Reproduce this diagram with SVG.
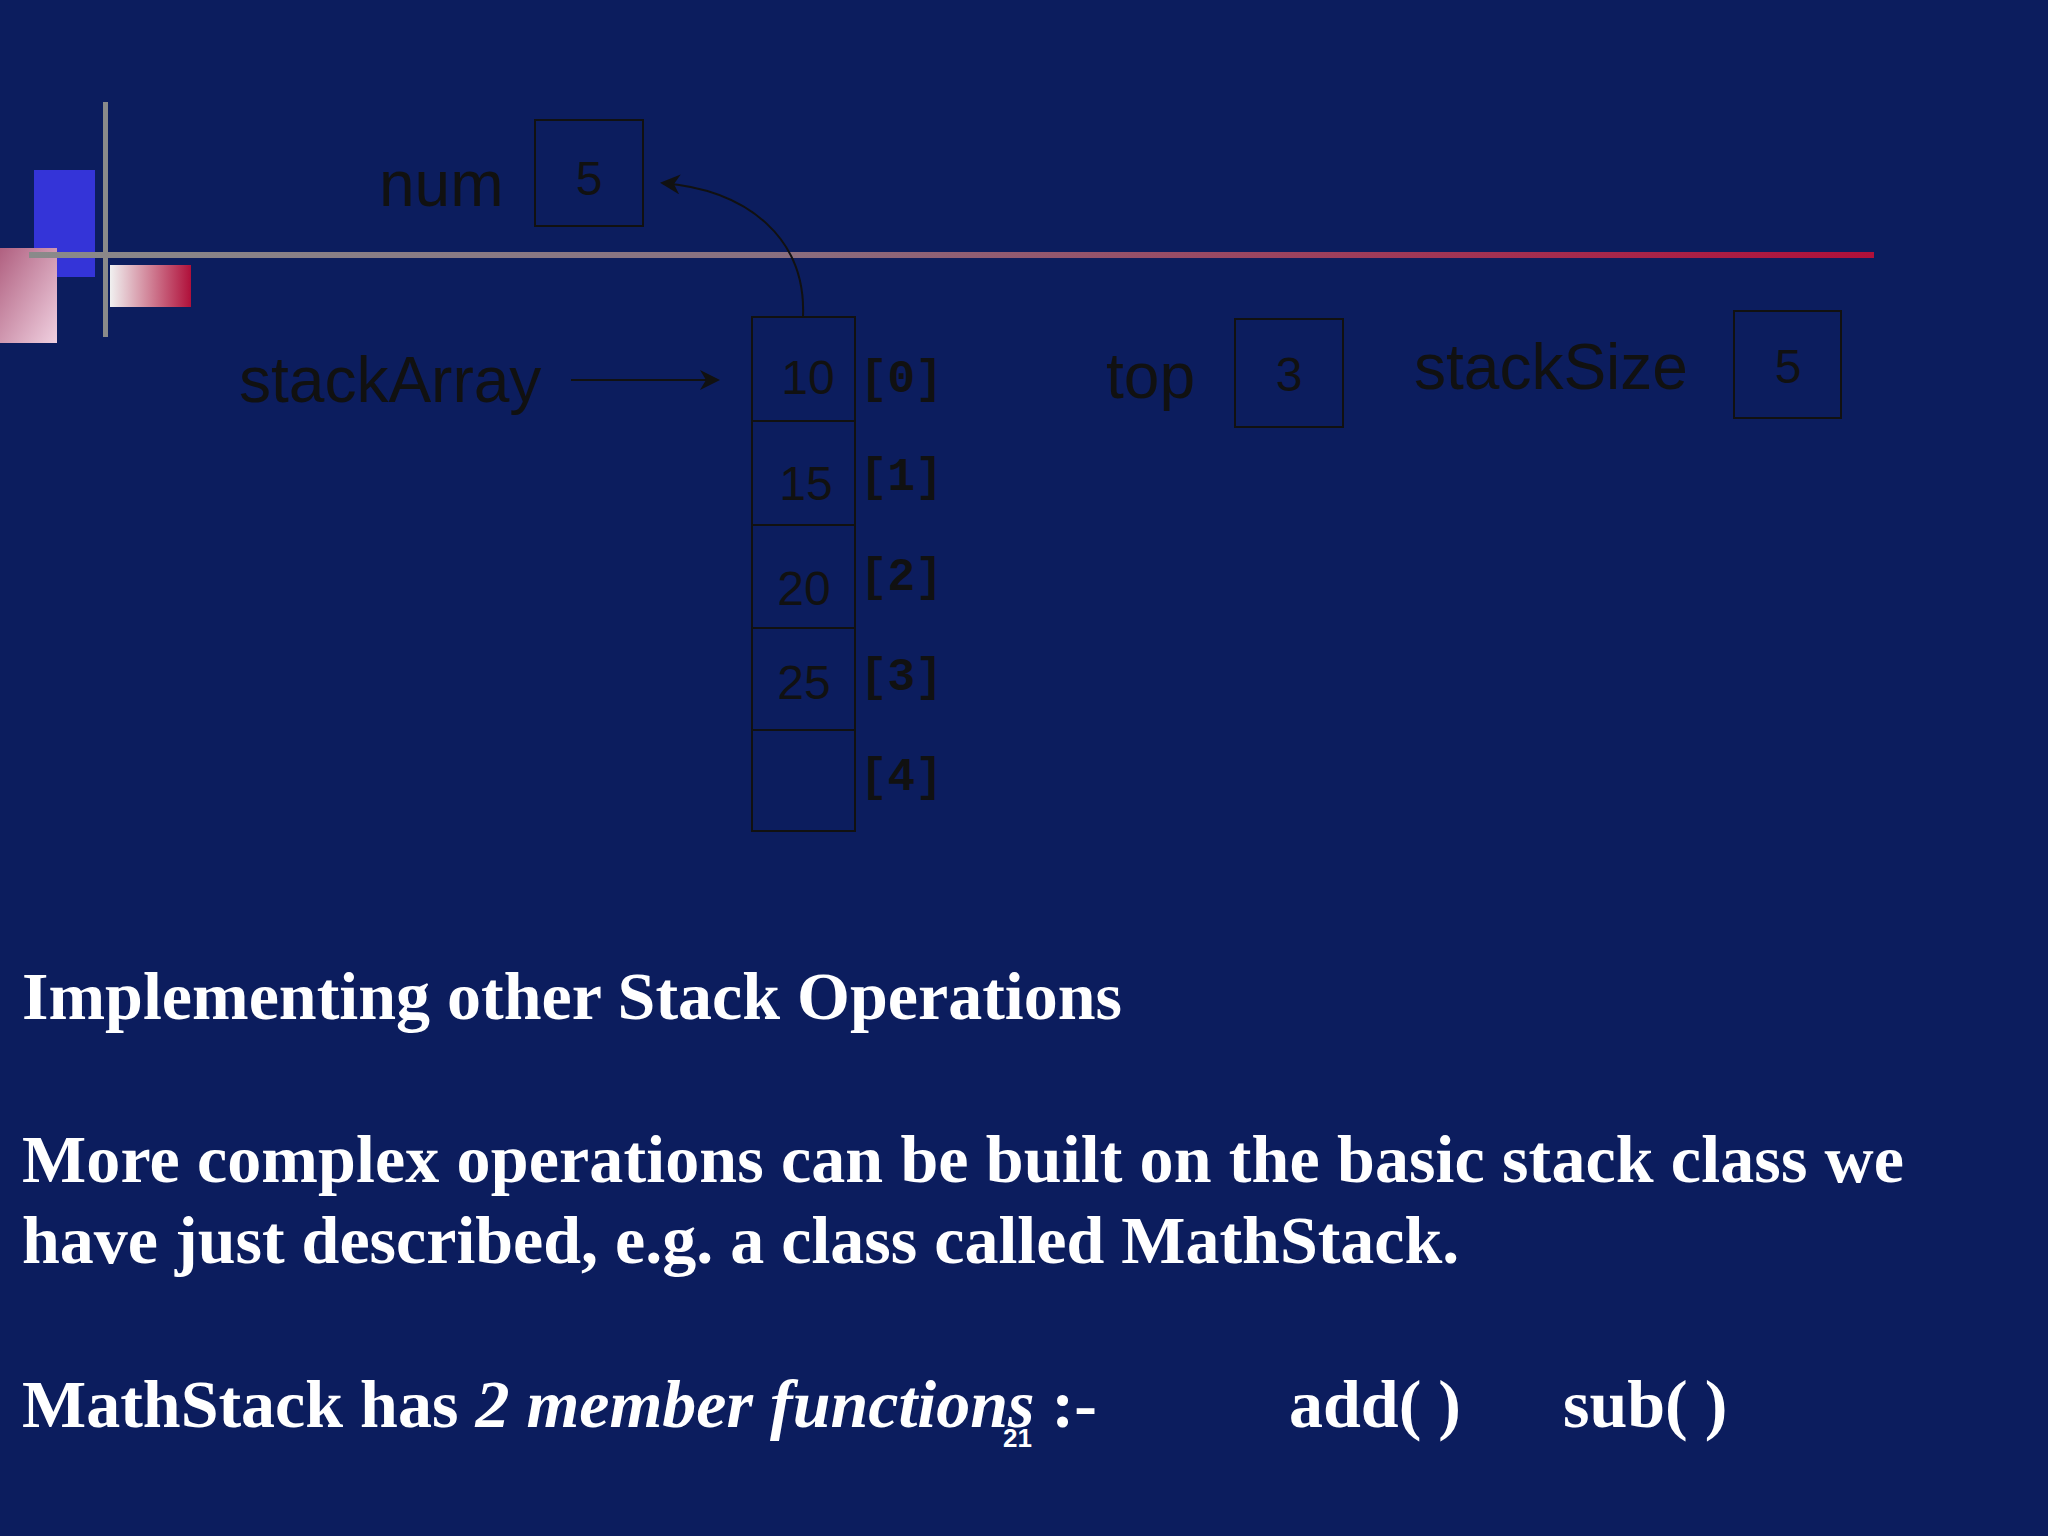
<svg xmlns="http://www.w3.org/2000/svg" width="2048" height="1536" viewBox="0 0 2048 1536">
<defs>
<linearGradient id="hl" x1="0" x2="1" y1="0" y2="0"><stop offset="0" stop-color="#8a8a8a"/><stop offset="0.4" stop-color="#8a7080"/><stop offset="1" stop-color="#b0103a"/></linearGradient>
<linearGradient id="pk" x1="0" x2="1" y1="0" y2="1"><stop offset="0" stop-color="#b06080"/><stop offset="1" stop-color="#f0d0e0"/></linearGradient>
<linearGradient id="sm" x1="0" x2="1"><stop offset="0" stop-color="#f0f0f0"/><stop offset="1" stop-color="#b0103a"/></linearGradient>
<marker id="ah" viewBox="0 0 10 10" refX="9" refY="5" markerWidth="10" markerHeight="10" orient="auto"><path d="M0,0 L10,5 L0,10 L3,5 z" fill="#111"/></marker>
<style>
.lbl{font-family:"Liberation Sans",Arial,sans-serif;font-size:64px;fill:#111}
.val{font-family:"Liberation Sans",Arial,sans-serif;font-size:48px;fill:#111;text-anchor:middle}
.idx{font-family:"Liberation Mono","DejaVu Sans Mono",monospace;font-size:46px;font-weight:bold;fill:#111}
.box{fill:none;stroke:#111;stroke-width:2}
.t{font-family:"Liberation Serif","Times New Roman",serif;font-weight:bold;font-size:68px;fill:#fff}
</style>
</defs>
<rect width="2048" height="1536" fill="#0c1d5e"/>
<g id="decor">
<rect x="34" y="170" width="61" height="107" fill="#3434d8"/>
<rect x="0" y="248" width="57" height="95" fill="url(#pk)"/>
<rect x="110" y="265" width="81" height="42" fill="url(#sm)"/>
<rect x="103" y="102" width="5" height="235" fill="#8a8a8a"/>
<rect x="29" y="252" width="1845" height="6" fill="url(#hl)"/>
</g>
<g id="num"><text class="lbl" x="379" y="206">num</text><rect class="box" x="535" y="120" width="108" height="106"/><text class="val" x="589" y="195">5</text></g>
<g id="stackArrayLabel"><text class="lbl" x="239" y="402">stackArray</text></g>
<g id="array">
<rect class="box" x="752" y="317" width="103" height="104"/><text class="val" x="808" y="394">10</text><text class="idx" x="860" y="392">[0]</text>
<rect class="box" x="752" y="421" width="103" height="104"/><text class="val" x="806" y="500">15</text><text class="idx" x="860" y="490">[1]</text>
<rect class="box" x="752" y="525" width="103" height="103"/><text class="val" x="804" y="605">20</text><text class="idx" x="860" y="590">[2]</text>
<rect class="box" x="752" y="628" width="103" height="102"/><text class="val" x="804" y="699">25</text><text class="idx" x="860" y="690">[3]</text>
<rect class="box" x="752" y="730" width="103" height="101"/><text class="idx" x="860" y="790">[4]</text>
</g>
<g id="top"><text class="lbl" x="1106" y="398">top</text><rect class="box" x="1235" y="319" width="108" height="108"/><text class="val" x="1289" y="391">3</text></g>
<g id="stackSize"><text class="lbl" x="1414" y="389">stackSize</text><rect class="box" x="1734" y="311" width="107" height="107"/><text class="val" x="1788" y="383">5</text></g>
<g id="connectors" fill="none" stroke="#111" stroke-width="2">
<path d="M803,316 C806,240 750,190 662,183" marker-end="url(#ah)"/>
<path d="M571,380 L718,380" marker-end="url(#ah)"/>
</g>
<g id="text">
<text class="t" x="22" y="1019">Implementing other Stack Operations</text>
<text class="t" x="22" y="1182" textLength="1882">More complex operations can be built on the basic stack class we</text>
<text class="t" x="22" y="1263">have just described, e.g. a class called MathStack.</text>
<text class="t" x="22" y="1427">MathStack has <tspan font-style="italic">2 member functions</tspan> :-</text>
<text class="t" x="1289" y="1427">add( )</text>
<text class="t" x="1563" y="1427">sub( )</text>
<text x="1003" y="1447" font-family="Liberation Sans,Arial,sans-serif" font-weight="bold" font-size="26" fill="#fff">21</text>
</g>
</svg>
